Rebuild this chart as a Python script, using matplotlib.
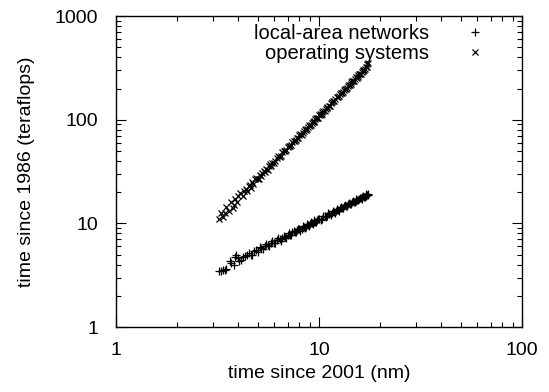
import matplotlib
matplotlib.use("Agg")
import matplotlib.pyplot as plt
from matplotlib.ticker import LogLocator, NullFormatter, FixedFormatter, FixedLocator

plt.rcParams['font.family'] = ['Liberation Sans', 'DejaVu Sans']

# local-area networks (+)
lan_x = [3.2, 3.35, 3.5, 3.65, 3.8, 3.9, 4.0, 4.15, 4.3, 4.5, 4.7, 4.9, 5.1, 5.3,
         5.5, 5.7, 5.9, 6.1, 6.3, 6.5, 6.7, 6.9, 7.1, 7.3, 7.5, 7.7, 7.9, 8.1,
         8.3, 8.5, 8.7, 8.9, 9.1, 9.3, 9.5, 9.7, 9.9, 10.2, 10.5, 10.8, 11.1,
         11.4, 11.7, 12.0, 12.3, 12.6, 12.9, 13.2, 13.5, 13.8, 14.1, 14.4, 14.7,
         15.0, 15.3, 15.6, 15.9, 16.2, 16.5, 16.8, 17.1, 17.4,
         3.3, 3.45, 3.7, 3.85, 4.05, 4.2, 4.4, 4.6, 4.8, 5.0, 5.2, 5.4, 5.6, 5.8,
         6.0, 6.2, 6.4, 6.6, 6.8, 7.0, 7.2, 7.4, 7.6, 7.8, 8.0, 8.2, 8.4, 8.6,
         8.8, 9.0, 9.2, 9.4, 9.6, 9.8, 10.05, 10.35, 10.65, 10.95, 11.25, 11.55,
         11.85, 12.15, 12.45, 12.75, 13.05, 13.35, 13.65, 13.95, 14.25, 14.55,
         14.85, 15.15, 15.45, 15.75, 16.05, 16.35, 16.65, 16.95, 17.25, 17.5]
lan_y = [3.5, 3.55, 3.6, 4.3, 4.0, 4.9, 4.6, 4.4, 4.8, 5.2, 5.0, 5.5, 5.9, 5.6,
         6.3, 6.0, 6.7, 6.4, 7.2, 6.8, 7.6, 7.3, 8.1, 7.7, 8.5, 8.2, 8.9, 8.5,
         9.4, 9.0, 9.8, 9.4, 10.3, 9.8, 10.7, 10.2, 11.1, 10.8, 11.8, 11.4, 12.5,
         12.0, 13.2, 12.7, 13.8, 13.3, 14.5, 14.0, 15.1, 14.7, 15.8, 15.3, 16.4,
         16.0, 17.0, 16.7, 17.6, 17.3, 18.3, 18.0, 19.0, 18.7,
         3.5, 3.55, 4.1, 4.7, 4.3, 4.7, 5.0, 4.9, 5.4, 5.3, 5.8, 6.0, 6.2, 6.5,
         6.5, 6.9, 7.0, 7.3, 7.4, 7.8, 7.8, 8.2, 8.3, 8.6, 8.8, 8.9, 9.3, 9.3,
         9.7, 9.8, 10.0, 10.3, 10.4, 10.8, 11.0, 11.1, 11.7, 11.9, 12.2, 12.7,
         12.9, 13.3, 13.5, 14.0, 14.2, 14.6, 14.8, 15.3, 15.5, 15.9,
         16.1, 16.6, 16.8, 17.2, 17.4, 17.9, 18.1, 18.5, 18.9, 19.3]

# operating systems (x)
os_x = [3.2, 3.35, 3.5, 3.6, 3.7, 3.75, 3.85, 3.95, 4.1, 4.2, 4.35, 4.5, 4.6,
        4.7, 4.85, 5.0, 5.1, 5.2, 5.35, 5.5, 5.6, 5.75, 5.9, 6.0, 6.2, 6.4, 6.6,
        6.8, 7.0, 7.2, 7.4, 7.6, 7.75, 7.9, 8.1, 8.3, 8.5, 8.7, 8.9, 9.1, 9.3,
        9.5, 9.7, 9.9, 10.1, 10.3, 10.5, 10.8, 11.0, 11.3, 11.6, 11.9, 12.2,
        12.5, 12.8, 13.1, 13.4, 13.7, 14.0, 14.3, 14.6, 14.9, 15.2, 15.5, 15.8,
        16.1, 16.4, 16.7, 17.0, 17.3,
        3.3, 3.45, 3.8, 4.0, 4.25, 4.4, 4.55, 4.75, 4.9, 5.05, 5.25, 5.45, 5.65,
        5.8, 6.1, 6.3, 6.5, 6.7, 6.9, 7.1, 7.3, 7.5, 7.7, 8.0, 8.2, 8.4, 8.6,
        8.8, 9.0, 9.2, 9.4, 9.6, 9.8, 10.0, 10.2, 10.4, 10.65, 10.9, 11.15,
        11.45, 11.75, 12.05, 12.35, 12.65, 12.95, 13.25, 13.55, 13.85, 14.15,
        14.45, 14.75, 15.05, 15.35, 15.65, 15.95, 16.25, 16.55, 16.85, 17.15,
        17.45]
os_y = [11.0, 11.5, 14.5, 13.2, 16.0, 14.0, 17.0, 16.2, 19.5, 18.4, 21.5, 22.8,
        22.0, 25.0, 26.5, 26.8, 29.5, 28.6, 32.0, 33.8, 33.0, 37.2, 38.5, 38.0,
        43.0, 44.0, 48.5, 49.8, 54.5, 55.8, 61.0, 62.0, 66.8, 67.0, 73.0, 74.0,
        80.5, 81.0, 88.0, 89.0, 96.0, 97.0, 104.5, 105.0, 113.0, 114.0, 122.5,
        125.5, 134.0, 137.0, 149.5, 152.0, 165.0, 168.0, 182.0, 184.5, 199.5,
        201.0, 218.0, 219.5, 237.0, 238.0, 257.0, 258.0, 277.5, 279.0, 299.0,
        300.0, 322.0, 345.0,
        12.5, 12.6, 15.2, 18.5, 20.5, 20.3, 23.5, 23.8, 27.5, 27.0, 30.8, 31.5,
        35.8, 35.5, 40.0, 44.5, 45.0, 50.0, 51.0, 56.0, 57.0, 62.5, 63.5, 70.5,
        72.0, 78.0, 79.0, 85.5, 87.0, 93.5, 95.0, 102.0, 103.5, 110.0, 112.0,
        119.0, 122.0, 131.0, 134.5, 144.0, 150.0, 160.0, 164.5, 176.0, 180.0,
        193.0, 198.0, 211.0, 216.0, 230.0, 235.0, 248.0, 254.0, 268.0, 275.0,
        289.0, 296.0, 312.0, 325.0, 352.0]

fig = plt.figure(figsize=(5.49, 3.92), dpi=100)
ax = fig.add_axes([0.2113, 0.1658, 0.7395, 0.7932])

ax.plot(lan_x, lan_y, linestyle='none', marker='+', color='black',
        markersize=6, markeredgewidth=0.9, label='local-area networks')
ax.plot(os_x, os_y, linestyle='none', marker='x', color='black',
        markersize=4.5, markeredgewidth=0.9, label='operating systems')

ax.set_xscale('log')
ax.set_yscale('log')
ax.set_xlim(1, 100)
ax.set_ylim(1, 1000)

ax.xaxis.set_major_locator(FixedLocator([1, 10, 100]))
ax.xaxis.set_major_formatter(FixedFormatter(['1', '10', '100']))
ax.yaxis.set_major_locator(FixedLocator([1, 10, 100, 1000]))
ax.yaxis.set_major_formatter(FixedFormatter(['1', '10', '100', '1000']))
ax.xaxis.set_minor_locator(LogLocator(base=10, subs=range(2, 10)))
ax.yaxis.set_minor_locator(LogLocator(base=10, subs=range(2, 10)))
ax.xaxis.set_minor_formatter(NullFormatter())
ax.yaxis.set_minor_formatter(NullFormatter())

ax.tick_params(which='both', direction='in', top=True, right=True,
               labelsize=14, width=0.8, colors='black')
ax.tick_params(which='major', length=7)
ax.tick_params(axis='y', which='major', pad=13)
ax.tick_params(axis='x', which='major', pad=11)
ax.tick_params(which='minor', length=3.5)
for s in ax.spines.values():
    s.set_linewidth(1.0)

ax.set_xlabel('time since 2001 (nm)', fontsize=14, labelpad=4)
ax.set_ylabel('time since 1986 (teraflops)', fontsize=14, labelpad=14)

ax.legend(loc='upper right', frameon=False, markerfirst=False, fontsize=14.5,
          handlelength=1.0, handletextpad=1.8, labelspacing=0.05,
          borderaxespad=0.0, bbox_to_anchor=(0.93, 1.0))

fig.savefig('out.png', dpi=100)
